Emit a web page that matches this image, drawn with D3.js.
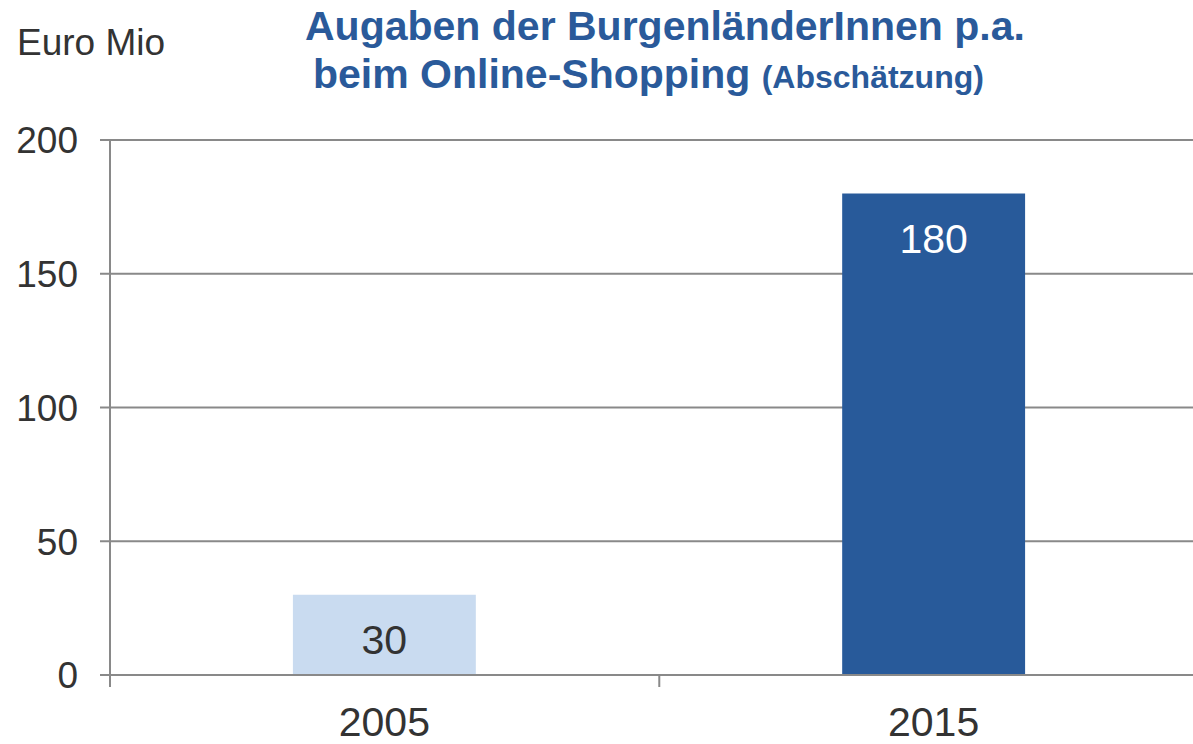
<!DOCTYPE html>
<meta charset="utf-8">
<style>
body { margin: 0; background: #fff; }
text { font-family: "Liberation Sans", Arial, sans-serif; }
</style>
<body>
<script src="https://d3js.org/d3.v7.min.js"></script>
<script>

var years = ["2005", "2015"];
var spending = [30, 180];
var barColors = ["#c9dbf0", "#285a9a"];
var labelColors = ["#333333", "#ffffff"];
var yTicks = [0, 50, 100, 150, 200];

var width = 1193, height = 744;
var plotLeft = 110, plotRight = 1208, plotTop = 140, plotBottom = 675;

var svg = d3.select("body").append("svg")
    .attr("width", width)
    .attr("height", height);

var x = d3.scaleBand()
    .domain(years)
    .range([plotLeft, plotRight])
    .paddingInner(0.667)
    .paddingOuter(0.333);

var y = d3.scaleLinear()
    .domain([0, 200])
    .range([plotBottom, plotTop]);

var grid = "#898989";

// horizontal gridlines
svg.selectAll("line.grid")
  .data(yTicks)
  .enter().append("line")
    .attr("class", "grid")
    .attr("x1", plotLeft - 10)
    .attr("x2", width)
    .attr("y1", d => y(d))
    .attr("y2", d => y(d))
    .attr("stroke", grid)
    .attr("stroke-width", 2);

// y tick labels
svg.selectAll("text.ytick")
  .data(yTicks)
  .enter().append("text")
    .attr("class", "ytick")
    .attr("x", 78)
    .attr("y", d => y(d))
    .attr("dy", "0.36em")
    .attr("text-anchor", "end")
    .attr("fill", "#333")
    .style("font-size", "37px")
    .text(d => d);

// bars
svg.selectAll("rect.bar")
  .data(spending)
  .enter().append("rect")
    .attr("class", "bar")
    .attr("x", (d, i) => x(years[i]))
    .attr("width", x.bandwidth())
    .attr("y", d => y(d))
    .attr("height", d => y(0) - y(d))
    .attr("fill", (d, i) => barColors[i]);

// baseline on top of bars
svg.append("line")
    .attr("x1", plotLeft - 10)
    .attr("x2", width)
    .attr("y1", y(0))
    .attr("y2", y(0))
    .attr("stroke", grid)
    .attr("stroke-width", 2);

// y axis line
svg.append("line")
    .attr("x1", plotLeft)
    .attr("x2", plotLeft)
    .attr("y1", plotTop)
    .attr("y2", plotBottom + 12)
    .attr("stroke", grid)
    .attr("stroke-width", 2);

// category separator ticks
svg.selectAll("line.xtick")
  .data(d3.range(1, years.length + 1))
  .enter().append("line")
    .attr("class", "xtick")
    .attr("x1", i => plotLeft + i * x.step())
    .attr("x2", i => plotLeft + i * x.step())
    .attr("y1", plotBottom)
    .attr("y2", plotBottom + 12)
    .attr("stroke", grid)
    .attr("stroke-width", 2);

// x labels
svg.selectAll("text.xlab")
  .data(years)
  .enter().append("text")
    .attr("class", "xlab")
    .attr("x", d => x(d) + x.bandwidth() / 2)
    .attr("y", 736)
    .attr("text-anchor", "middle")
    .attr("fill", "#333")
    .style("font-size", "41px")
    .text(d => d);

// value labels
svg.selectAll("text.val")
  .data(spending)
  .enter().append("text")
    .attr("class", "val")
    .attr("x", (d, i) => x(years[i]) + x.bandwidth() / 2)
    .attr("y", d => y(d) + 59)
    .attr("text-anchor", "middle")
    .attr("fill", (d, i) => labelColors[i])
    .style("font-size", "41px")
    .text(d => d);

// unit label
svg.append("text")
    .attr("x", 17)
    .attr("y", 55)
    .attr("fill", "#333")
    .style("font-size", "37px")
    .text("Euro Mio");

// title
var title = svg.append("text")
    .attr("fill", "#2a5a9a")
    .style("font-weight", "bold");

title.append("tspan")
    .attr("x", 305)
    .attr("y", 40)
    .style("font-size", "41px")
    .text("Augaben der BurgenländerInnen p.a.");

title.append("tspan")
    .attr("x", 313)
    .attr("y", 88)
    .style("font-size", "41px")
    .text("beim Online-Shopping ");

title.append("tspan")
    .style("font-size", "32px")
    .text("(Abschätzung)");

</script>
</body>
